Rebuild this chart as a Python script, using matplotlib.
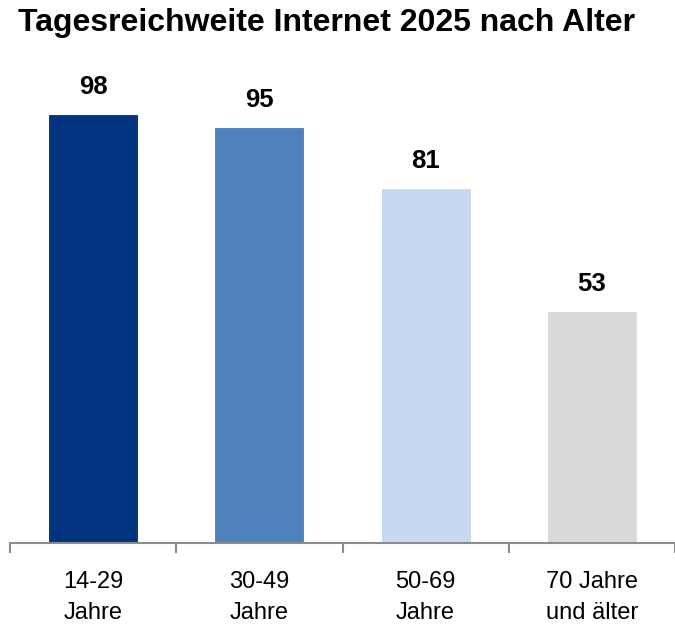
import matplotlib
matplotlib.use("Agg")
import matplotlib.pyplot as plt

plt.rcParams['font.family'] = ['Liberation Sans', 'DejaVu Sans']

title = "Tagesreichweite Internet 2025 nach Alter"
categories = ["14-29\nJahre", "30-49\nJahre", "50-69\nJahre", "70 Jahre\nund älter"]
values = [98, 95, 81, 53]
colors = ["#003380", "#4F81BD", "#C6D9F0", "#D9D9D9"]

fig = plt.figure(figsize=(6.75, 6.26), dpi=100)
ax = fig.add_axes([10/675, (626-543)/626, 665/675, 437.8/626])

x = list(range(len(categories)))
bars = ax.bar(x, values, width=0.54, color=colors, edgecolor="white", linewidth=0.8)
for xi, v in zip(x, values):
    ax.annotate(str(v), (xi, v), xytext=(0, 11), textcoords="offset points",
                ha="center", va="bottom", fontsize=18.5, fontweight="bold")

ax.set_xlim(-0.5, len(categories) - 0.5)
ax.set_ylim(0, 100)
for s in ["top", "right", "left"]:
    ax.spines[s].set_visible(False)
ax.spines["bottom"].set_color("#8C8C8C")
ax.spines["bottom"].set_linewidth(1.5)
ax.set_yticks([])
ax.set_xticks([i - 0.5 for i in range(len(categories) + 1)], minor=False)
ax.set_xticklabels([])
ax.tick_params(axis="x", which="major", length=7, width=1.5, color="#8C8C8C", direction="out")
ax.set_xticks(x, minor=True)
ax.set_xticklabels(categories, minor=True, fontsize=17, linespacing=1.55)
ax.tick_params(axis="x", which="minor", length=0, pad=20)

fig.text(18/675, 1 - 23/626, title, fontsize=23, fontweight="bold", ha="left", va="center")

fig.savefig("out.png", dpi=100)
